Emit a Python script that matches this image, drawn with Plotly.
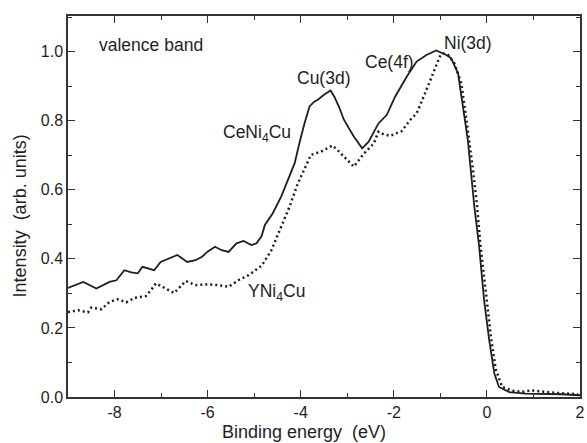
import plotly.graph_objects as go

# CeNi4Cu (solid)
ce_x = [-9.00, -8.67, -8.39, -8.11, -7.96, -7.79, -7.64, -7.50, -7.40, -7.26, -7.15, -7.01,
        -6.83, -6.65, -6.44, -6.26, -6.12, -6.01, -5.84, -5.70, -5.55, -5.38, -5.23, -5.06,
        -4.95, -4.84, -4.77, -4.60, -4.42, -4.28, -4.13, -4.03, -3.92, -3.81, -3.71, -3.64,
        -3.50, -3.36, -3.28, -3.18, -3.07, -2.86, -2.68, -2.54, -2.33, -2.15, -1.97, -1.72,
        -1.51, -1.30, -1.09, -0.87, -0.77, -0.62, -0.52, -0.41, -0.34, -0.27, -0.17, -0.06,
        0.05, 0.16, 0.26, 0.48, 0.83, 1.19, 1.60, 2.00]
ce_y = [0.316, 0.333, 0.314, 0.333, 0.338, 0.367, 0.361, 0.358, 0.377, 0.372, 0.367, 0.391,
        0.401, 0.411, 0.391, 0.396, 0.406, 0.420, 0.435, 0.425, 0.420, 0.445, 0.452, 0.440,
        0.445, 0.466, 0.498, 0.532, 0.580, 0.628, 0.677, 0.734, 0.792, 0.841, 0.855, 0.860,
        0.875, 0.887, 0.870, 0.841, 0.802, 0.754, 0.720, 0.739, 0.792, 0.817, 0.870, 0.928,
        0.971, 0.990, 1.003, 0.990, 0.981, 0.937, 0.841, 0.744, 0.648, 0.551, 0.440, 0.280,
        0.164, 0.068, 0.029, 0.014, 0.010, 0.010, 0.008, 0.005]

# YNi4Cu (dotted)
y_x = [-9.00, -8.78, -8.57, -8.50, -8.28, -8.11, -7.93, -7.75, -7.57, -7.33, -7.22, -7.11,
       -6.90, -6.72, -6.47, -6.26, -6.01, -5.77, -5.55, -5.34, -5.13, -4.84, -4.63, -4.42,
       -4.24, -4.06, -3.89, -3.78, -3.57, -3.43, -3.32, -3.21, -3.07, -2.86, -2.64, -2.43,
       -2.33, -2.21, -2.08, -1.83, -1.65, -1.51, -1.33, -1.19, -1.01, -0.94, -0.83, -0.70,
       -0.55, -0.45, -0.38, -0.29, -0.21, -0.14, -0.02, 0.09, 0.19, 0.33, 0.55, 0.76, 0.97,
       1.19, 1.47, 1.96]
y_y = [0.246, 0.251, 0.245, 0.259, 0.254, 0.275, 0.283, 0.274, 0.287, 0.292, 0.309, 0.329,
       0.314, 0.301, 0.336, 0.324, 0.326, 0.324, 0.319, 0.338, 0.352, 0.380, 0.425, 0.493,
       0.551, 0.619, 0.667, 0.701, 0.710, 0.720, 0.728, 0.715, 0.696, 0.667, 0.705, 0.734,
       0.768, 0.760, 0.756, 0.770, 0.802, 0.821, 0.879, 0.928, 0.986, 0.995, 0.990, 0.966,
       0.908, 0.812, 0.744, 0.648, 0.551, 0.440, 0.300, 0.170, 0.080, 0.029, 0.018, 0.015,
       0.019, 0.016, 0.012, 0.008]

x_ticks = [-8, -6, -4, -2, 0, 2]
y_ticks = [0.0, 0.2, 0.4, 0.6, 0.8, 1.0]

x_title = "Binding energy  (eV)"
y_title = "Intensity  (arb. units)"

FONT = "Liberation Sans, Arial, sans-serif"
INK = "#1e1e1e"

fig = go.Figure()
fig.add_trace(go.Scatter(x=ce_x, y=ce_y, mode="lines",
                         line=dict(color=INK, width=1.8), showlegend=False))
fig.add_trace(go.Scatter(x=y_x, y=y_y, mode="lines",
                         line=dict(color=INK, width=2.5, dash="2px,3px"), showlegend=False))

ann_font = dict(family=FONT, size=17.5, color=INK)
notes = [
    (-8.38, 1.019, "valence band", "left"),
    (-3.49, 0.924, "Cu(3d)", "center"),
    (-2.09, 0.970, "Ce(4f)", "center"),
    (-0.41, 1.025, "Ni(3d)", "center"),
    (-5.71, 0.764, "CeNi<sub>4</sub>Cu", "left"),
    (-5.17, 0.303, "YNi<sub>4</sub>Cu", "left"),
]
for x, y, t, a in notes:
    fig.add_annotation(x=x, y=y, text=t, showarrow=False, xanchor=a, yanchor="middle",
                       font=ann_font)

title_font = dict(family=FONT, size=18, color=INK)
# axis titles (placed as in the reference, slightly off-centre)
fig.add_annotation(xref="paper", yref="paper", x=0.460, y=-0.091, text=x_title,
                   showarrow=False, xanchor="center", yanchor="middle", font=title_font,
                   borderpad=0)
fig.add_annotation(xref="paper", yref="paper", x=-0.093, y=0.475, text=y_title,
                   textangle=-90, showarrow=False, xanchor="center", yanchor="middle",
                   font=title_font, borderpad=0)

axis_common = dict(showline=True, linecolor="#333", linewidth=1.5, mirror="allticks",
                   ticks="inside", ticklen=7, tickwidth=1.3, tickcolor="#333",
                   showgrid=False, zeroline=False, ticklabeloverflow="allow",
                   tickfont=dict(family=FONT, size=16, color=INK))

fig.update_xaxes(range=[-9, 2], tickvals=x_ticks, ticktext=[str(v) for v in x_ticks],
                 minor=dict(ticks="inside", ticklen=4, dtick=1, tick0=0, tickcolor="#333"),
                 **axis_common)
fig.update_yaxes(range=[0, 1.103], tickvals=y_ticks, ticktext=[f"{v:.1f}" for v in y_ticks],
                 minor=dict(ticks="inside", ticklen=4, dtick=0.1, tick0=0, tickcolor="#333"),
                 **axis_common)

fig.update_layout(width=587, height=443, margin=dict(l=68, r=2, t=16, b=46),
                  plot_bgcolor="white", paper_bgcolor="white")

fig.write_html("out.html")
